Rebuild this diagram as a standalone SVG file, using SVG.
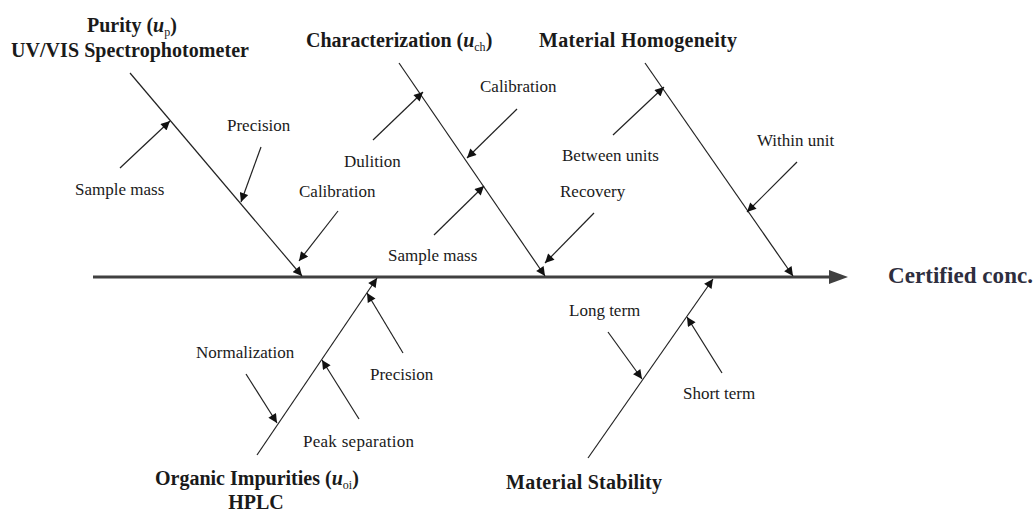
<svg xmlns="http://www.w3.org/2000/svg" width="1035" height="511" viewBox="0 0 1035 511">
<defs>
<marker id="ah" viewBox="0 0 10 10" refX="10" refY="5" markerWidth="10" markerHeight="9" markerUnits="userSpaceOnUse" orient="auto">
<path d="M0,0 L10,5 L0,10 z" fill="#111"/>
</marker>
</defs>
<style>
.lbl{font-family:"Liberation Serif","Times New Roman",serif;font-size:17px;fill:#1a1a1a}
.ttl{font-family:"Liberation Serif","Times New Roman",serif;font-size:20px;font-weight:bold;fill:#1a1a1a}
.cert{font-family:"Liberation Serif","Times New Roman",serif;font-size:23px;font-weight:bold;fill:#2e2e3e}
.br{stroke:#222;stroke-width:1.2;fill:none;marker-end:url(#ah)}
.sub{font-size:12px;font-weight:normal}
</style>
<rect width="1035" height="511" fill="#fff"/>
<g id="connectors">
<line x1="93" y1="277" x2="832" y2="277" stroke="#404040" stroke-width="3.2"/>
<polygon points="829,270 848,277 829,284" fill="#404040"/>
<line class="br" x1="130" y1="73" x2="302" y2="276"/>
<line class="br" x1="399" y1="63" x2="545" y2="276"/>
<line class="br" x1="645" y1="63" x2="793" y2="276"/>
<line class="br" x1="257" y1="455" x2="377" y2="278"/>
<line class="br" x1="588" y1="458" x2="713" y2="279"/>
<line class="br" x1="120" y1="168" x2="170" y2="121"/>
<line class="br" x1="261" y1="147" x2="241" y2="202"/>
<line class="br" x1="338" y1="211" x2="299" y2="261"/>
<line class="br" x1="373" y1="140" x2="423" y2="92"/>
<line class="br" x1="517" y1="109" x2="467" y2="158"/>
<line class="br" x1="434" y1="235" x2="484" y2="186"/>
<line class="br" x1="594" y1="213" x2="545" y2="263"/>
<line class="br" x1="613" y1="135" x2="664" y2="87"/>
<line class="br" x1="797" y1="162" x2="747" y2="212"/>
<line class="br" x1="403" y1="353" x2="367" y2="293"/>
<line class="br" x1="359" y1="419" x2="322" y2="360"/>
<line class="br" x1="246" y1="374" x2="277" y2="423"/>
<line class="br" x1="608" y1="332" x2="642" y2="379"/>
<line class="br" x1="722" y1="373" x2="687" y2="317"/>
</g>
<g id="purity">
<text class="ttl" x="87" y="32">Purity (<tspan font-style="italic">u</tspan><tspan class="sub" dy="4">p</tspan><tspan dy="-4">)</tspan></text>
<text class="ttl" x="11" y="57" textLength="238">UV/VIS Spectrophotometer</text>
<text class="lbl" x="75" y="195">Sample mass</text>
<text class="lbl" x="227" y="131">Precision</text>
<text class="lbl" x="299" y="197">Calibration</text>
</g>
<g id="characterization">
<text class="ttl" x="306" y="47">Characterization (<tspan font-style="italic">u</tspan><tspan class="sub" dy="4">ch</tspan><tspan dy="-4">)</tspan></text>
<text class="lbl" x="480" y="92">Calibration</text>
<text class="lbl" x="344" y="167">Dulition</text>
<text class="lbl" x="388" y="261">Sample mass</text>
<text class="lbl" x="560" y="197">Recovery</text>
</g>
<g id="homogeneity">
<text class="ttl" x="539" y="47" textLength="198">Material Homogeneity</text>
<text class="lbl" x="562" y="161">Between units</text>
<text class="lbl" x="757" y="146">Within unit</text>
</g>
<g id="organic">
<text class="ttl" x="155" y="485">Organic Impurities (<tspan font-style="italic">u</tspan><tspan class="sub" dy="4">oi</tspan><tspan dy="-4">)</tspan></text>
<text class="ttl" x="256" y="509" text-anchor="middle">HPLC</text>
<text class="lbl" x="196" y="358">Normalization</text>
<text class="lbl" x="370" y="380">Precision</text>
<text class="lbl" x="303" y="447" textLength="111">Peak separation</text>
</g>
<g id="stability">
<text class="ttl" x="506" y="489" textLength="156">Material Stability</text>
<text class="lbl" x="569" y="316">Long term</text>
<text class="lbl" x="683" y="399">Short term</text>
</g>
<g id="result">
<text class="cert" x="888" y="283" textLength="145">Certified conc.</text>
</g>
</svg>
